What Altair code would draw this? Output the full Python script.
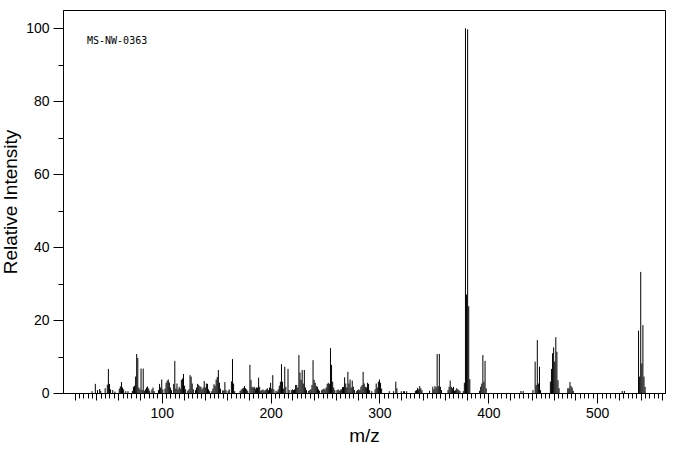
import altair as alt
import pandas as pd

# ---- spectrum data (m/z, relative intensity) ----
mz = [36, 39, 41, 43, 44, 48, 50, 51, 52, 53, 55, 57,
      61, 62, 63, 64, 65, 67, 69, 73, 74, 75, 76, 77, 78, 79, 80, 81, 82, 83, 84, 85, 86, 87, 88, 89,
      91, 92, 93, 97, 98, 99, 100, 101, 103, 104, 105, 106, 107, 108, 109, 111, 112, 113, 114, 115,
      116, 117, 118, 119, 120, 121, 122, 124, 125, 126, 127, 128, 129, 131, 132, 133, 134, 135, 136,
      137, 138, 139, 140, 141, 142, 143, 144, 146, 147, 148, 149, 150, 151, 152, 153, 154, 156, 157,
      158, 159, 161, 162, 164, 165, 166, 167, 172, 173, 174, 175, 176, 177, 178, 179, 181, 182, 183,
      184, 185, 186, 187, 188, 189, 190, 191, 192, 193, 194, 195, 196, 197, 198, 199, 200, 201, 202,
      203, 205, 206, 207, 208, 209, 210, 211, 212, 213, 214, 216, 217, 219, 220, 221, 222, 223, 224,
      225, 226, 227, 228, 229, 230, 231, 232, 233, 235, 236, 237, 238, 239, 240, 241, 242, 243, 244,
      245, 247, 248, 249, 250, 251, 252, 253, 254, 255, 256, 257, 258, 259, 261, 262, 263, 264, 265,
      266, 267, 268, 269, 270, 271, 272, 273, 274, 275, 276, 277, 279, 280, 281, 282, 283, 284, 285,
      286, 287, 288, 289, 290, 291, 293, 296, 297, 298, 299, 300, 301, 302, 309, 313, 315, 316, 320,
      322, 323, 325, 333, 334, 335, 336, 337, 338, 339, 346, 349, 350, 351, 352, 353, 354, 355, 356,
      357, 363, 364, 365, 366, 367, 368, 369, 370, 371, 372, 373, 374, 377, 378, 379, 380, 381, 382,
      383, 392, 393, 394, 395, 396, 397, 398, 430, 432, 441, 443, 444, 445, 446, 447, 448, 457, 458,
      459, 460, 461, 462, 463, 464, 465, 473, 474, 475, 476, 477, 478, 523, 525, 538, 539, 540, 541,
      542, 543, 544]
rel_int = [0.5, 2.5, 0.8, 1.1, 0.6, 1.3, 2.3, 6.6, 2.5, 1.0, 0.8, 0.4,
           1.2, 1.8, 3.0, 1.5, 1.0, 0.5, 0.5, 0.6, 1.7, 2.0, 4.5, 10.7, 9.6, 1.5, 1.0, 6.7, 0.8, 6.7, 0.6, 1.0, 1.5, 1.8, 1.2, 0.6,
           1.0, 1.5, 0.5, 0.8, 2.5, 1.5, 3.7, 1.0, 1.2, 2.8, 3.4, 3.7, 2.9, 1.5, 0.8, 2.5, 8.8, 1.2, 2.6, 1.0,
           1.7, 1.2, 3.6, 4.0, 5.2, 2.0, 1.0, 0.6, 1.0, 4.9, 4.5, 2.6, 1.0, 0.8, 1.5, 2.5, 2.2, 1.8, 1.7,
           1.0, 1.5, 3.3, 1.5, 2.6, 2.5, 1.0, 0.5, 0.5, 1.2, 2.4, 2.0, 3.7, 4.4, 6.3, 2.8, 1.2, 0.7, 0.7,
           3.0, 0.8, 0.6, 1.0, 3.2, 9.3, 2.6, 0.5, 0.6, 0.9, 1.2, 1.4, 1.9, 1.3, 1.0, 0.6, 7.7, 3.6, 1.7,
           1.5, 1.7, 1.2, 1.5, 1.5, 4.2, 1.7, 0.6, 0.8, 1.0, 0.6, 0.8, 1.0, 1.3, 0.8, 1.5, 2.8, 1.2, 4.9,
           1.0, 0.6, 0.4, 1.0, 2.0, 3.1, 7.9, 3.1, 1.2, 7.2, 1.7, 6.6, 0.8, 0.8, 1.0, 0.8, 1.0, 2.2, 2.2,
           1.5, 10.4, 5.6, 3.6, 6.3, 2.6, 6.3, 1.5, 0.8, 0.6, 0.8, 1.0, 2.2, 9.0, 3.6, 2.8, 1.9, 1.7, 1.0,
           0.6, 0.8, 1.0, 1.2, 1.0, 1.5, 2.5, 2.8, 2.5, 12.3, 7.7, 3.1, 1.5, 0.8, 0.8, 1.0, 0.6, 0.9, 1.0,
           1.6, 1.7, 4.3, 2.6, 1.5, 5.8, 2.6, 3.7, 1.5, 3.4, 1.7, 0.8, 0.5, 0.8, 1.0, 0.8, 1.7, 2.2, 5.8,
           2.6, 1.7, 1.5, 2.8, 2.5, 0.8, 0.5, 1.0, 2.6, 1.5, 3.1, 3.7, 2.8, 1.2, 0.5, 0.5, 3.1, 1.3, 0.5,
           0.5, 0.5, 0.5, 0.6, 0.8, 1.4, 1.0, 1.9, 1.3, 0.8, 0.6, 1.7, 1.0, 1.9, 1.5, 10.7, 1.9, 10.7, 1.7,
           0.8, 0.8, 1.7, 3.4, 1.7, 1.3, 1.7, 0.6, 0.8, 1.3, 1.0, 0.8, 0.5, 0.5, 2.8, 100.0, 27.0, 99.7, 23.8,
           3.8, 0.6, 1.7, 2.6, 10.4, 3.1, 8.8, 1.3, 0.55, 0.55, 0.8, 8.6, 2.2, 14.5, 2.6, 7.2, 0.8, 3.1, 6.6,
           10.9, 12.5, 8.6, 15.3, 11.3, 3.5, 1.3, 1.3, 1.3, 3.0, 1.9, 1.5, 0.6, 0.55, 0.55, 17.1, 4.5, 33.2, 8.1,
           18.6, 4.5, 1.7]

# ---- axis ticks / labels ----
x_ticks = list(range(20, 561, 4))      # minor every 4, medium every 20, labelled every 100
y_ticks = list(range(0, 101, 10))      # minor every 10, labelled every 20
sample_label = ["MS-NW-0363"]

X_DOMAIN = [9.3, 562.3]
Y_DOMAIN = [0, 105]
W, H = 602, 383
FONT = "Liberation Sans"

spec = pd.DataFrame({"mz": mz, "y": rel_int, "base": [0] * len(mz)})
xscale = alt.Scale(domain=X_DOMAIN, nice=False, zero=False)
yscale = alt.Scale(domain=Y_DOMAIN, nice=False)

x_tick_size = {
    "condition": [
        {"test": "datum.value % 100 === 0", "value": 10},
        {"test": "datum.value % 20 === 0", "value": 7},
    ],
    "value": 5,
}
y_tick_size = {"condition": {"test": "datum.value % 20 === 0", "value": 10}, "value": 5}

peaks = alt.Chart(spec).mark_rule(color="black", strokeWidth=1).encode(
    x=alt.X("mz:Q", scale=xscale, title="m/z",
            axis=alt.Axis(values=x_ticks, tickSize=x_tick_size,
                          labelExpr="datum.value % 100 === 0 ? datum.label : ''",
                          labelPadding=3, labelFontSize=14, titleFontSize=19,
                          titlePadding=6, grid=False, labelFlush=False,
                          labelOverlap=False)),
    y=alt.Y("y:Q", scale=yscale, title="Relative Intensity",
            axis=alt.Axis(values=y_ticks, tickSize=y_tick_size, labelPadding=4,
                          labelExpr="datum.value % 20 === 0 ? datum.label : ''",
                          labelFontSize=14, titleFontSize=19, titlePadding=5,
                          grid=False, labelOverlap=False)),
    y2="base:Q",
)

label = alt.Chart(pd.DataFrame({"t": sample_label})).mark_text(
    font="DejaVu Sans Mono", fontSize=10, align="left", baseline="middle",
    color="black").encode(text="t:N", x=alt.value(24), y=alt.value(31))

chart = alt.layer(peaks, label).properties(
    width=W, height=H,
    padding={"left": 63, "top": 10, "right": 11, "bottom": 62},
    autosize=alt.AutoSizeParams(type="none"),
    background="white",
).configure_view(stroke="black", strokeWidth=1).configure_axis(
    domainColor="black", tickColor="black", labelColor="black",
    titleColor="black", labelFont=FONT, titleFont=FONT,
    titleFontWeight="normal", domainWidth=1, tickWidth=1,
)

chart.save("out.html", embed_options={"renderer": "svg", "actions": False})
